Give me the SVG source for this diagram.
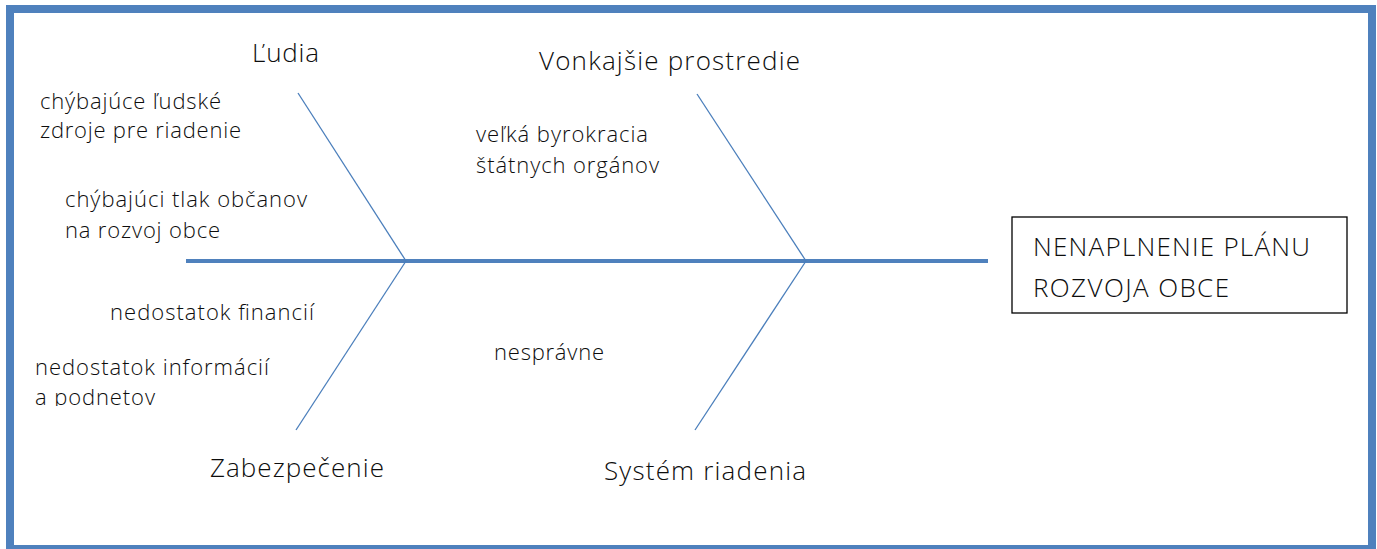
<svg xmlns="http://www.w3.org/2000/svg" width="1377" height="549" viewBox="0 0 1377 549">
<style>
.t{font-family:"Open Sans","Liberation Sans",sans-serif;fill:#0d0d0d;font-weight:300}
.s{font-size:22px}
.l{font-size:26px}
.bone{stroke:#4a7ebb;stroke-width:1.3;fill:none}
</style>
<defs>
<clipPath id="clipA"><rect x="0" y="0" width="1377" height="406"/></clipPath>
</defs>
<rect width="1377" height="549" fill="#ffffff"/>
<rect id="frame" x="10" y="9" width="1362" height="540" fill="none" stroke="#4f81bd" stroke-width="8"/>
<g id="connectors">
<line x1="186" y1="261" x2="988" y2="261" stroke="#4f81bd" stroke-width="4"/>
<line class="bone" x1="298" y1="93" x2="406" y2="261"/>
<line class="bone" x1="406" y1="261" x2="296" y2="430"/>
<line class="bone" x1="697" y1="94" x2="806" y2="261"/>
<line class="bone" x1="806" y1="261" x2="695" y2="430"/>
</g>
<g id="ludia">
<text class="t l" x="252" y="62" textLength="67" lengthAdjust="spacing">Ľudia</text>
<text class="t s" x="40" y="109" textLength="181" lengthAdjust="spacing">chýbajúce ľudské</text>
<text class="t s" x="40" y="138" textLength="201" lengthAdjust="spacing">zdroje pre riadenie</text>
<text class="t s" x="65" y="207" textLength="242" lengthAdjust="spacing">chýbajúci tlak občanov</text>
<text class="t s" x="65" y="238" textLength="155" lengthAdjust="spacing">na rozvoj obce</text>
</g>
<g id="vonkajsie">
<text class="t l" x="539" y="70" textLength="261" lengthAdjust="spacing">Vonkajšie prostredie</text>
<text class="t s" x="476" y="142" textLength="172" lengthAdjust="spacing">veľká byrokracia</text>
<text class="t s" x="476" y="173" textLength="183" lengthAdjust="spacing">štátnych orgánov</text>
</g>
<g id="zabezpecenie">
<text class="t l" x="210" y="477" textLength="174" lengthAdjust="spacing">Zabezpečenie</text>
<text class="t s" x="110" y="320" textLength="204" lengthAdjust="spacing">nedostatok financií</text>
<text class="t s" x="35" y="375" textLength="234" lengthAdjust="spacing">nedostatok informácií</text>
<text class="t s" x="35" y="405" textLength="120" lengthAdjust="spacing" clip-path="url(#clipA)">a podnetov</text>
</g>
<g id="system">
<text class="t l" x="604" y="480" textLength="202" lengthAdjust="spacing">Systém riadenia</text>
<text class="t s" x="494" y="360" textLength="110" lengthAdjust="spacing">nesprávne</text>
</g>
<g id="effect">
<rect x="1012" y="217" width="335" height="96" fill="#ffffff" stroke="#000000" stroke-width="1.3"/>
<text class="t l" x="1033" y="256" textLength="277" lengthAdjust="spacing">NENAPLNENIE PLÁNU</text>
<text class="t l" x="1033" y="297" textLength="196" lengthAdjust="spacing">ROZVOJA OBCE</text>
</g>
</svg>
